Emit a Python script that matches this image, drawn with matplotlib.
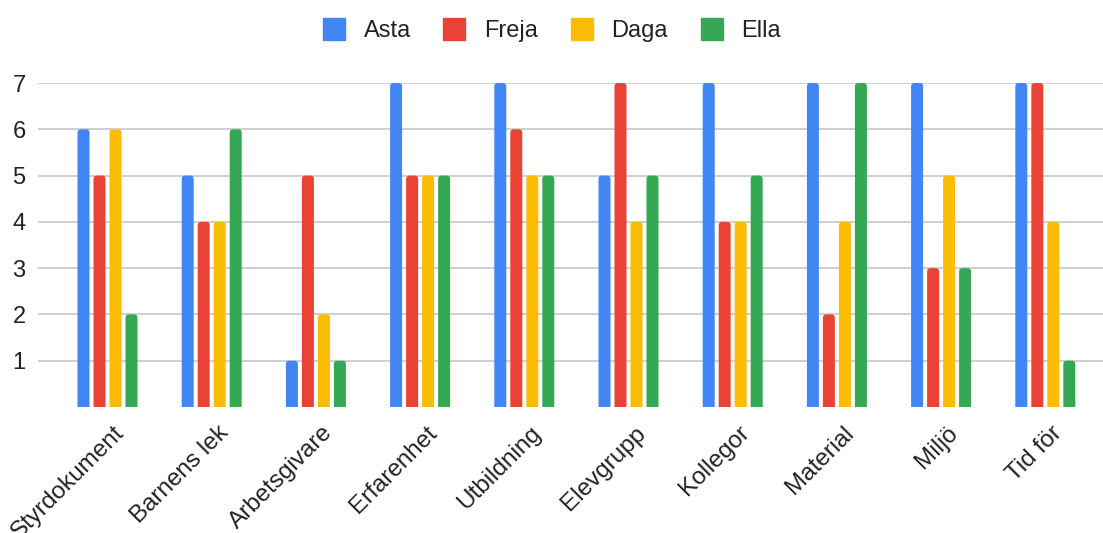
import matplotlib
matplotlib.use("Agg")
import matplotlib.pyplot as plt
import matplotlib.transforms as mtransforms
from matplotlib.lines import Line2D
from matplotlib.patches import FancyBboxPatch
import numpy as np

plt.rcParams['font.family'] = ['Liberation Sans', 'DejaVu Sans']

categories = ["Styrdokument", "Barnens lek", "Arbetsgivare", "Erfarenhet", "Utbildning",
              "Elevgrupp", "Kollegor", "Material", "Miljö", "Tid för"]
series_names = ["Asta", "Freja", "Daga", "Ella"]
asta = [6, 5, 1, 7, 7, 5, 7, 7, 7, 7]
freja = [5, 4, 5, 5, 6, 7, 4, 2, 3, 7]
daga = [6, 4, 2, 5, 5, 4, 4, 4, 5, 4]
ella = [2, 6, 1, 5, 5, 5, 5, 7, 3, 1]
colors = ["#4285F4", "#EA4335", "#FBBC04", "#34A853"]

fig = plt.figure(figsize=(11.03, 5.33), dpi=100)
ax = fig.add_axes([38 / 1103, 126 / 533, 1 - 38 / 1103, (407 - 83) / 533])

x = np.arange(len(categories))
px_x = 104.2   # pixels per category
px_y = 46.3    # pixels per unit
pitch = 16 / px_x
width = 12 / px_x
r = 3.5 / px_x
below = 0.3
clip = mtransforms.TransformedBbox(mtransforms.Bbox([[-2, 0], [12, 8]]), ax.transData)

# bars from ax.bar, then redrawn with rounded tops (bottom hidden below y=0)
for i, (vals, c) in enumerate(zip([asta, freja, daga, ella], colors)):
    bars = ax.bar(x + (i - 1.5) * pitch, np.array(vals) + below, width,
                  bottom=-below, color=c, linewidth=0, zorder=3)
    for b in bars:
        b.set_visible(False)
        p = FancyBboxPatch((b.get_x(), b.get_y()), b.get_width(), b.get_height(),
                           boxstyle=f"round,pad=0,rounding_size={r}",
                           mutation_aspect=px_x / px_y, facecolor=c, linewidth=0,
                           zorder=3)
        ax.add_patch(p)
        p.set_clip_box(clip)

ax.set_xlim((38 - 107.5) / px_x, (1103 - 107.5) / px_x)
ax.set_ylim(0, 7)
ax.set_yticks(range(1, 8))
ax.yaxis.grid(True, color="#cccccc", linewidth=1.3)
ax.set_axisbelow(True)
for s in ax.spines.values():
    s.set_visible(False)
ax.tick_params(axis='y', length=0, pad=9, labelsize=17, labelcolor="#222222")
ax.tick_params(axis='x', length=0)
ax.set_xticks(x)
ax.set_xticklabels(categories, rotation=45, ha='right', va='top',
                   rotation_mode='anchor', fontsize=17.5, color="#222222")
offset = mtransforms.ScaledTranslation(6 / 100, -10 / 100, fig.dpi_scale_trans)
for lab in ax.get_xticklabels():
    lab.set_transform(lab.get_transform() + offset)

handles = [Line2D([], [], marker='s', linestyle='none', markersize=16.5,
                  markerfacecolor=c, markeredgecolor=c) for c in colors]
fig.legend(handles, series_names, loc='center', bbox_to_anchor=(0.5, 1 - 31 / 533),
           ncol=4, frameon=False, fontsize=17, handlelength=1.0, handletextpad=0.76,
           columnspacing=1.35, labelcolor="#222222")

fig.savefig("out.png", dpi=100)
